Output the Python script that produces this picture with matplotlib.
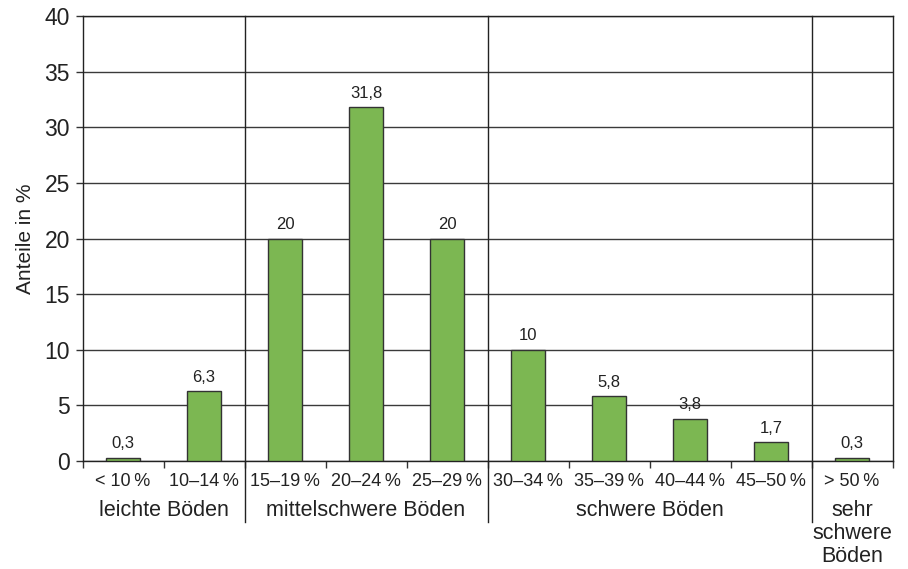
import matplotlib
matplotlib.use("Agg")
import matplotlib.pyplot as plt

plt.rcParams['font.family'] = ['Liberation Sans', 'DejaVu Sans']

categories = ["< 10\u2009%", "10\u201314\u2009%", "15\u201319\u2009%", "20\u201324\u2009%", "25\u201329\u2009%",
              "30\u201334\u2009%", "35\u201339\u2009%", "40\u201344\u2009%", "45\u201350\u2009%", "> 50\u2009%"]
values = [0.3, 6.3, 20, 31.8, 20, 10, 5.8, 3.8, 1.7, 0.3]
value_labels = ["0,3", "6,3", "20", "31,8", "20", "10", "5,8", "3,8", "1,7", "0,3"]
groups = ["leichte Böden", "mittelschwere Böden", "schwere Böden", "sehr\nschwere\nBöden"]
group_spans = [(0, 1), (2, 4), (5, 8), (9, 9)]
y_ticks = [0, 5, 10, 15, 20, 25, 30, 35, 40]

fig = plt.figure(figsize=(9.08, 5.69), dpi=100)
ax = fig.add_axes([82.5 / 908, 1 - 461 / 569, 810 / 908, 445 / 569])

x = list(range(len(categories)))
ax.bar(x, values, width=0.41, color="#7cb752", edgecolor="#333333", linewidth=1.0, zorder=3)

for xi, v, lab in zip(x, values, value_labels):
    ax.annotate(lab, (xi, v), xytext=(0, 4.5), textcoords="offset points",
                ha="center", va="bottom", fontsize=12, color="#222222")

ax.set_xlim(-0.5, len(categories) - 0.5)
ax.set_ylim(0, 40)
ax.set_yticks(y_ticks)
ax.set_yticklabels([str(t) for t in y_ticks], fontsize=16.5, color="#222222")
ax.tick_params(axis="y", length=5, width=1, color="#333333", pad=4)
ax.yaxis.grid(True, color="#3a3a3a", linewidth=1.0, zorder=0)
ax.set_axisbelow(True)

# boundary ticks between categories; labels placed at category centres
ax.set_xticks([i - 0.5 for i in range(len(categories) + 1)])
ax.set_xticklabels([])
ax.tick_params(axis="x", length=5, width=1, color="#333333")
for xi, lab in zip(x, categories):
    ax.text(xi, -0.045, lab, transform=ax.get_xaxis_transform(), ha="center", va="center",
            fontsize=13, color="#222222")

for (a, b), g in zip(group_spans, groups):
    ax.text((a + b) / 2, -0.088, g, transform=ax.get_xaxis_transform(), ha="center", va="top",
            fontsize=15.5, color="#222222", linespacing=1.12)

# group separators running from the top down through the label rows
for sep in [1.5, 4.5, 8.5]:
    ax.plot([sep, sep], [1.0, -0.137], transform=ax.get_xaxis_transform(),
            color="#222222", linewidth=1.0, clip_on=False, zorder=4)

for s in ax.spines.values():
    s.set_color("#222222")
    s.set_linewidth(1.0)

ax.set_ylabel("Anteile in %", fontsize=15, color="#222222", labelpad=7)

fig.savefig("out.png", dpi=100)
